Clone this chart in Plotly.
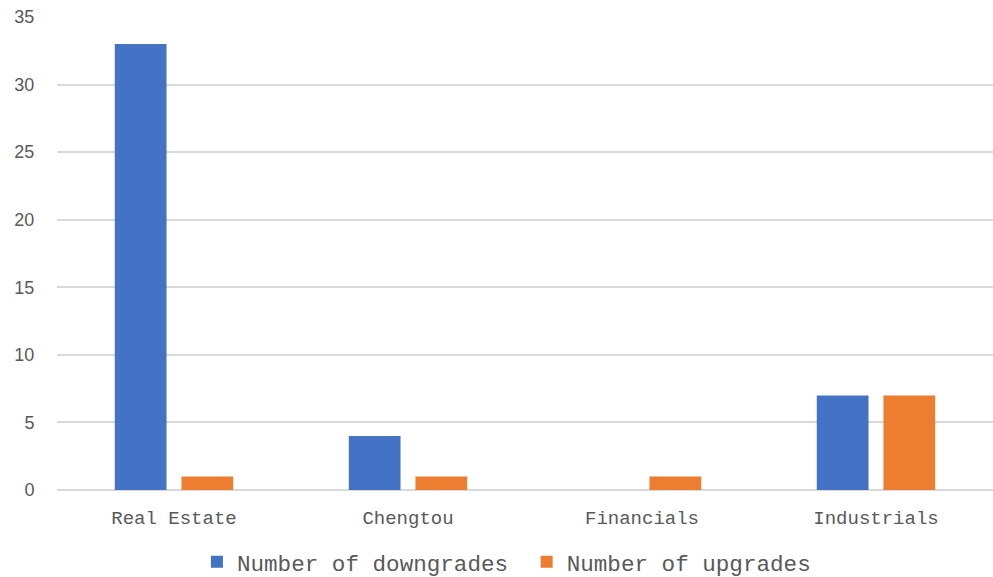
import plotly.graph_objects as go

categories = ["Real Estate", "Chengtou", "Financials", "Industrials"]
downgrades = [33, 4, 0, 7]
upgrades = [1, 1, 1, 7]
y_ticks = [0, 5, 10, 15, 20, 25, 30, 35]

fig = go.Figure()
fig.add_trace(go.Bar(x=categories, y=downgrades, name="Number of downgrades\u00a0",
                     marker=dict(color="#4472C4", line=dict(width=0))))
fig.add_trace(go.Bar(x=categories, y=upgrades, name="Number of upgrades",
                     marker=dict(color="#ED7D31", line=dict(width=0))))

fig.update_layout(
    width=993, height=577,
    margin=dict(l=57, r=0, t=17, b=87, autoexpand=False),
    plot_bgcolor="white", paper_bgcolor="white",
    barmode="group", bargap=0.43, bargroupgap=0.224,
    showlegend=True,
    legend=dict(orientation="h", x=0.510, xref="container", xanchor="center",
                y=-0.107, yref="paper", yanchor="top",
                font=dict(family="Liberation Mono", size=22.6, color="#595959"),
                itemwidth=30, tracegroupgap=0),
    xaxis=dict(tickfont=dict(family="Liberation Mono", size=19, color="#595959"),
               showgrid=False, showline=False, ticks="outside", tickcolor="white",
               ticklen=10, automargin=False),
    yaxis=dict(range=[0, 35], tickvals=y_ticks, showgrid=True, gridcolor="#d9d9d9",
               gridwidth=1.5, zeroline=True, zerolinecolor="#d9d9d9", zerolinewidth=1.5,
               tickfont=dict(family="Liberation Sans", size=18, color="#595959"),
               ticks="outside", tickcolor="white", ticklen=18, automargin=False),
)

fig.write_html("out.html")
